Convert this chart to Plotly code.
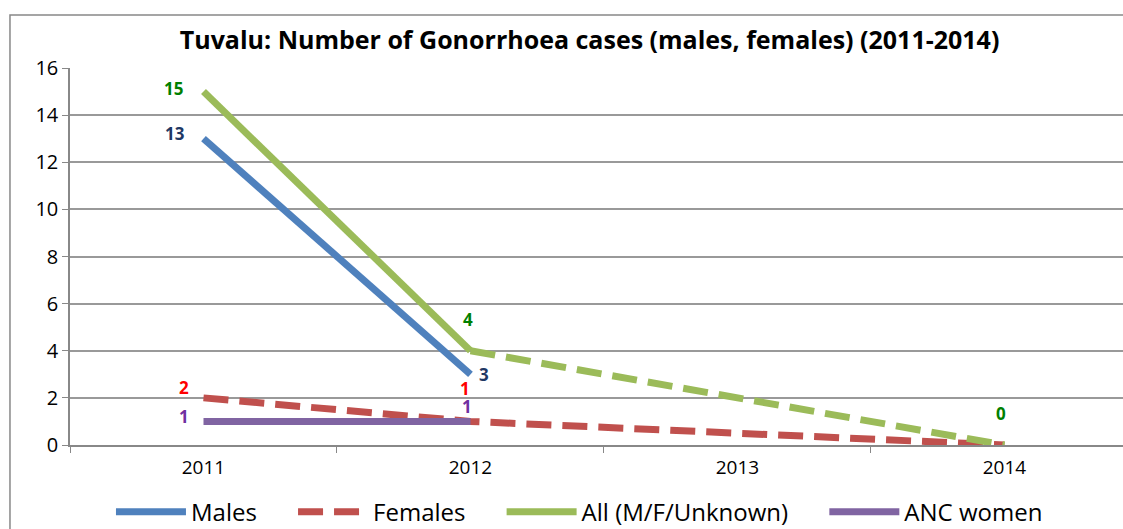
import plotly.graph_objects as go

# --- data ---
years = ["2011", "2012", "2013", "2014"]
males = [13, 3, None, None]
females = [2, 1, None, 0]
all_solid = [15, 4, None, None]
all_dashed = [None, 4, None, 0]
anc_women = [1, 1, None, None]

# data labels (year index, value)
males_labels = [(0, 13), (1, 3)]
females_labels = [(0, 2), (1, 1)]
all_labels = [(0, 15), (1, 4), (3, 0)]
anc_labels = [(0, 1), (1, 1)]

C_MALES = "#4F81BD"
C_FEMALES = "#C0504D"
C_ALL = "#9BBB59"
C_ANC = "#8064A2"

PAD = "\u00a0" * 5  # a bit more room between legend entries

fig = go.Figure()

fig.add_trace(go.Scatter(x=years, y=males, name="Males" + PAD, mode="lines",
                         line=dict(color=C_MALES, width=7)))
fig.add_trace(go.Scatter(x=years, y=females, name="Females" + PAD, mode="lines", connectgaps=True,
                         line=dict(color=C_FEMALES, width=7, dash="25px,11px")))
fig.add_trace(go.Scatter(x=years, y=all_solid, name="All (M/F/Unknown)" + PAD, mode="lines",
                         line=dict(color=C_ALL, width=7)))
fig.add_trace(go.Scatter(x=years, y=all_dashed, name="All dashed", mode="lines", connectgaps=True,
                         showlegend=False, line=dict(color=C_ALL, width=7, dash="25px,11px")))
fig.add_trace(go.Scatter(x=years, y=anc_women, name="ANC women", mode="lines",
                         line=dict(color=C_ANC, width=7)))

# --- data labels ---
def add_labels(labels, color, shifts):
    for (i, v), (dx, dy) in zip(labels, shifts):
        fig.add_annotation(x=i, y=v, xref="x", yref="y", text="<b>%d</b>" % v, showarrow=False,
                           xshift=dx, yshift=dy, font=dict(color=color, size=17))

add_labels(all_labels, "#008000", [(-30, 3), (-2, 31), (-3, 32)])
add_labels(males_labels, "#1F3864", [(-28, 5), (14, 0)])
add_labels(females_labels, "#FF0000", [(-19, 10), (-5, 33)])
add_labels(anc_labels, "#7030A0", [(-19, 5), (-3, 15)])

# outer chart border
fig.add_shape(type="rect", xref="paper", yref="paper", x0=-0.057, x1=1.2, y0=-0.4, y1=1.1406,
              line=dict(color="#888888", width=1.5), fillcolor="rgba(0,0,0,0)", layer="below")

fig.update_layout(
    width=1123, height=529,
    title=dict(text="<b>Tuvalu: Number of Gonorrhoea cases (males, females) (2011-2014)</b>",
               x=0.525, xanchor="center", y=0.9244, yanchor="middle",
               font=dict(size=25, color="black", family="Open Sans")),
    margin=dict(l=70, r=0, t=68, b=84),
    paper_bgcolor="white", plot_bgcolor="white",
    font=dict(family="Open Sans", color="black", size=19),
    showlegend=True,
    legend=dict(orientation="h", xref="container", yref="container",
                x=0.516, xanchor="center", y=0.032, yanchor="middle",
                font=dict(size=24), itemwidth=70, tracegroupgap=0),
)

fig.update_xaxes(type="category", range=[-0.5, 3.444], showline=True, linecolor="#888888",
                 linewidth=1.5, ticks="outside", tickcolor="#888888", ticklen=6,
                 tickson="boundaries", showgrid=False, tickfont=dict(size=19),
                 ticklabelstandoff=4)
fig.update_yaxes(range=[0, 16], dtick=2, showline=True, linecolor="#888888", linewidth=1.5,
                 ticks="outside", tickcolor="#888888", ticklen=6, gridcolor="#999999",
                 gridwidth=1.5, zeroline=False, tickfont=dict(size=20))

fig.write_html("out.html", config={"displayModeBar": False},
               post_script="document.body.style.margin = '0';")
